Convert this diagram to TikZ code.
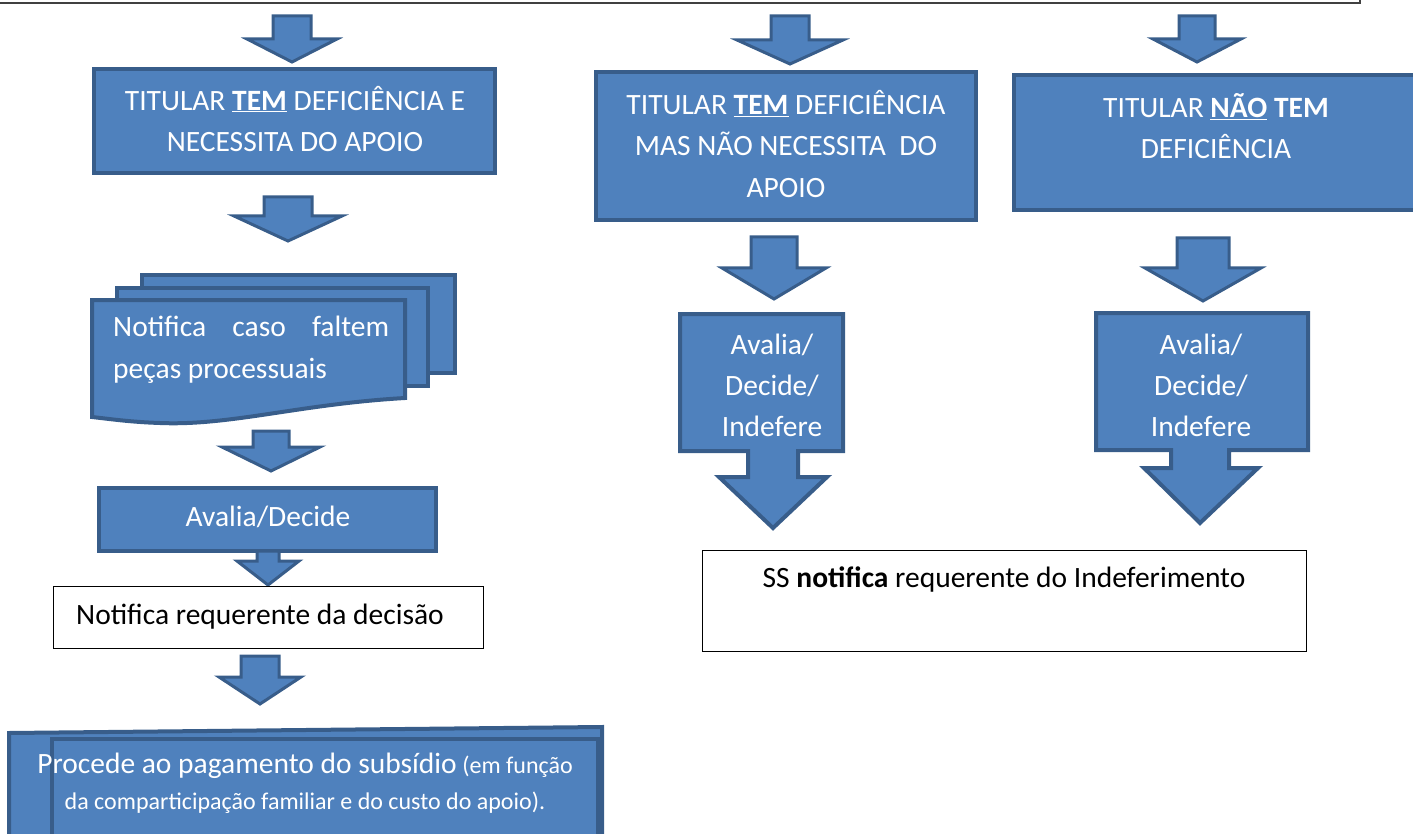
\documentclass[tikz,border=0pt]{standalone}
\usepackage{fontspec}
\setmainfont{Carlito}
\definecolor{fillb}{HTML}{4F81BD}
\definecolor{edgeb}{HTML}{385D8A}
\begin{document}
\begin{tikzpicture}[x=1pt,y=-1pt,
  blk/.style={fill=fillb,draw=edgeb,line width=4pt,line join=miter},
  blkbox/.style={blk,rectangle,inner sep=0pt,outer sep=0pt},
  wbox/.style={draw=black,line width=1pt,fill=white,rectangle,inner sep=0pt},
  wtxt/.style={text=white,align=center,inner sep=0pt},
  ttl/.style={wtxt,font=\fontsize{29.5}{41.5}\selectfont},
  avl/.style={wtxt,font=\fontsize{29.5}{41}\selectfont},
  btxt/.style={text=black,inner sep=0pt,font=\fontsize{29.5}{36}\selectfont},
  barrow/.style={blk,line width=3pt}]
\useasboundingbox (0,0) rectangle (1413,834);
% top frame corner
\draw[draw=black!75,line width=1.3pt] (0,3) -- (1360,3) -- (1360,-2);
% block arrow macro
\newcommand\dnarrow[7]{% name cx ytop sw hw yh ytip
  \draw[barrow] ({#2-#4},#3) -- ({#2+#4},#3) -- ({#2+#4},#6) -- ({#2+#5},#6) -- (#2,#7) -- ({#2-#5},#6) -- ({#2-#4},#6) -- cycle;
  \coordinate (#1) at (#2,#7);}
% top arrows
\dnarrow{a1}{292}{16}{19}{45}{39}{62}
\dnarrow{a2}{790}{16}{19}{53}{40}{64}
\dnarrow{a3}{1197}{16}{18}{44}{39}{62}
% title boxes
\node[blkbox,minimum width=401pt,minimum height=104pt] (t1) at (294.5,121) {};
\node[ttl] (t1t) at (295,119) {TITULAR \underline{\textbf{TEM}} DEFICIÊNCIA E\\NECESSITA DO APOIO};
\node[blkbox,minimum width=380pt,minimum height=148pt] (t2) at (786,146) {};
\node[ttl] (t2t) at (786,144) {TITULAR \underline{\textbf{TEM}} DEFICIÊNCIA\\MAS NÃO NECESSITA\ \ DO\\APOIO};
\node[blkbox,minimum width=404pt,minimum height=135pt] (t3) at (1216,142.5) {};
\node[ttl] (t3t) at (1216,126) {TITULAR \underline{\textbf{NÃO}} \textbf{TEM}\\DEFICIÊNCIA};
% arrow box1 -> doc
\dnarrow{a4}{288}{197}{24}{54}{216}{241}
% document stack
\draw[blk] (142,275) rectangle (455,373);
\draw[blk] (117,288) rectangle (428,386);
\draw[blk] (92,300) -- (405,300) -- (405,398) .. controls (300,404) and (230,426) .. (160,423) .. controls (130,422) and (110,419) .. (92,417) -- cycle;
\node[wtxt,anchor=north west,align=left,font=\fontsize{29.5}{42}\selectfont] (doct) at (113,316)
  {\parbox{276pt}{Notifica\hfill caso\hfill faltem\\peças processuais}};
% arrow doc -> avalia
\dnarrow{a5}{271}{431}{18}{49}{447}{471}
\node[blkbox,minimum width=337pt,minimum height=63pt] (ad) at (267.5,519.5) {};
\node[avl] (adt) at (268,517) {Avalia/Decide};
% arrow avalia -> notifica
\dnarrow{a6}{268}{551}{11}{31}{561}{585}
\node[wbox,minimum width=430pt,minimum height=62pt] (nr) at (268,617) {};
\node[btxt,anchor=west] (nrt) at (76,617) {Notifica requerente da decisão};
% arrow notifica -> procede
\dnarrow{a7}{260}{656}{19}{41}{677}{704}
% procede box
\draw[blk] (9,733) -- (602,727) -- (602,845) -- (9,845) -- cycle;
\draw[blk] (52,739) rectangle (598,845);
\node[wtxt,font=\fontsize{24}{36}\selectfont] (pt) at (305,783)
  {{\fontsize{29.5}{36}\selectfont Procede ao pagamento do subsídio} (em função\\da comparticipação familiar e do custo do apoio).};
% right columns
\dnarrow{a8}{774}{237}{23}{52}{268}{299}
\draw[blk] (680,314) -- (843,314) -- (843,451) -- (798,451) -- (798,477) -- (827,477) -- (773,528) -- (719,477) -- (748,477) -- (748,451) -- (680,451) -- cycle;
\node[avl] (c1t) at (772,385) {Avalia/\\Decide/\\Indefere};
\dnarrow{a9}{1203}{238}{26}{58}{268}{301}
\draw[blk] (1096,313) -- (1308,313) -- (1308,450) -- (1229,450) -- (1229,468) -- (1258,468) -- (1200,523) -- (1144,468) -- (1171,468) -- (1171,450) -- (1096,450) -- cycle;
\node[avl] (c2t) at (1201,385) {Avalia/\\Decide/\\Indefere};
\node[wbox,minimum width=604pt,minimum height=101pt] (ss) at (1004,600.5) {};
\node[btxt] (sst) at (1004,580) {SS \textbf{notifica} requerente do Indeferimento};
\end{tikzpicture}
\end{document}
